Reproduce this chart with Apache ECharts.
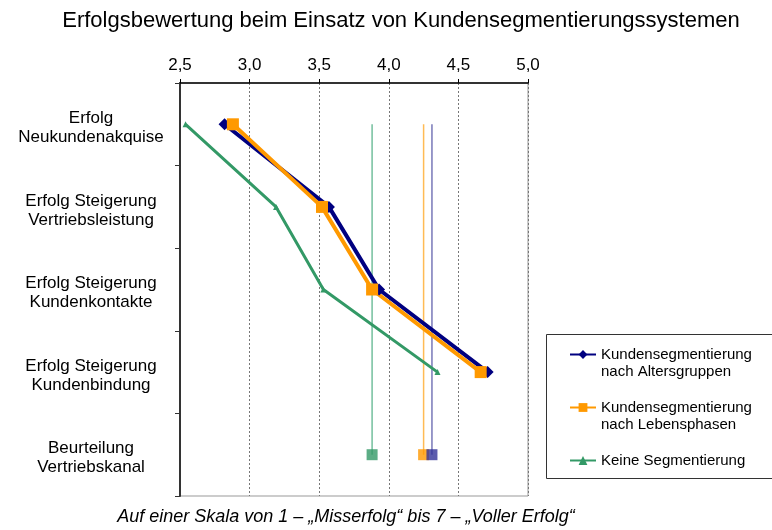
<!DOCTYPE html>
<html>
<head>
<meta charset="utf-8">
<script src="https://cdn.jsdelivr.net/npm/echarts@6/dist/echarts.min.js"></script>
<style>
  html, body { margin: 0; padding: 0; background: #fff; }
  #chart { width: 772px; height: 530px; }
</style>
</head>
<body>
<div id="chart"></div>
<script>
// Rating categories (top to bottom)
const categories = [
  'Erfolg\nNeukundenakquise',
  'Erfolg Steigerung\nVertriebsleistung',
  'Erfolg Steigerung\nKundenkontakte',
  'Erfolg Steigerung\nKundenbindung',
  'Beurteilung\nVertriebskanal'
];

const seriesNames = [
  'Kundensegmentierung\nnach Altersgruppen',
  'Kundensegmentierung\nnach Lebensphasen',
  'Keine Segmentierung'
];

// Mean ratings for the four success criteria
const altersgruppen = [2.82, 3.57, 3.93, 4.71];
const lebensphasen  = [2.88, 3.52, 3.88, 4.66];
const keineSegm     = [2.54, 3.19, 3.53, 4.35];

// Rating of the sales channel
const kanalAlters = 4.31;
const kanalLeben  = 4.25;
const kanalKeine  = 3.88;

const xTicks = { min: 2.5, max: 5.0, step: 0.5 };

const titleText = 'Erfolgsbewertung beim Einsatz von Kundensegmentierungssystemen';
const noteText  = 'Auf einer Skala von 1 – „Misserfolg“ bis 7 – „Voller Erfolg“';

const FONT = 'Liberation Sans, Arial, sans-serif';
const C_BLUE = '#000080', C_ORANGE = '#FF9900', C_GREEN = '#339966';

function lineSeries(name, data, color, symbol, size, width) {
  return {
    name: name, type: 'line', data: data, z: 5,
    symbol: symbol, symbolSize: size, showSymbol: true,
    lineStyle: { color: color, width: width },
    itemStyle: { color: color },
    emphasis: { disabled: true }
  };
}
function channelLine(value, color) {
  return {
    type: 'line', silent: true, symbol: 'none', z: 3,
    data: [[value, categories[0]], [value, categories[4]]],
    lineStyle: { color: color, width: 1.5 }
  };
}
function channelMark(value, color) {
  return {
    type: 'scatter', silent: true, symbol: 'rect', symbolSize: 11, z: 4,
    data: [[value, categories[4]]],
    itemStyle: { color: color }
  };
}

// Legend entries: a blank leading line keeps the icon level with the first text line
function legendLabel(name) {
  return '\n' + (name.indexOf('\n') >= 0 ? name : name + '\n');
}

// Category labels: a short spacer line on top nudges the two text lines down a little
function categoryLabel(value) {
  return '{s| }\n' + value.split('\n').map(l => '{t|' + l + '}').join('\n');
}

const chart = echarts.init(document.getElementById('chart'), null, { renderer: 'canvas' });
chart.setOption({
  animation: false,
  backgroundColor: '#ffffff',
  textStyle: { fontFamily: FONT },
  grid: {
    left: 180, right: 244, top: 83, bottom: 34,
    show: true, borderColor: '#999', borderWidth: 1, backgroundColor: 'transparent'
  },
  legend: {
    data: seriesNames,
    orient: 'vertical', left: 569, top: 329, padding: 0,
    itemWidth: 26, itemHeight: 11, itemGap: 2,
    formatter: legendLabel,
    textStyle: { fontSize: 15, color: '#000', lineHeight: 17, fontFamily: FONT },
    selectedMode: false
  },
  graphic: [
    {
      type: 'text', x: 401, y: 21, silent: true,
      style: {
        text: titleText, fill: '#000', font: '22px ' + FONT,
        textAlign: 'center', textVerticalAlign: 'middle'
      }
    },
    {
      type: 'text', x: 346, y: 517, silent: true,
      style: {
        text: noteText, fill: '#000', font: 'italic 18px ' + FONT,
        textAlign: 'center', textVerticalAlign: 'middle'
      }
    },
    {
      type: 'rect', shape: { x: 546.5, y: 334.5, width: 240, height: 144 },
      style: { fill: 'none', stroke: '#333', lineWidth: 1 }, silent: true, z: 0
    }
  ],
  xAxis: {
    type: 'value', position: 'top',
    min: xTicks.min, max: xTicks.max, interval: xTicks.step,
    axisLine: { show: true, lineStyle: { color: '#000', width: 1.5 } },
    axisTick: { show: true, length: 4, lineStyle: { color: '#000' } },
    axisLabel: {
      fontSize: 17, color: '#000', margin: 9, fontFamily: FONT,
      formatter: v => v.toFixed(1).replace('.', ',')
    },
    splitLine: { show: true, lineStyle: { color: '#777', type: [2, 2], width: 1 } }
  },
  yAxis: {
    type: 'category', inverse: true, data: categories,
    axisLine: { show: true, lineStyle: { color: '#333', width: 2 } },
    axisTick: { show: true, length: 5, alignWithLabel: false, lineStyle: { color: '#333' } },
    axisLabel: {
      color: '#000', align: 'center', margin: 89,
      formatter: categoryLabel,
      rich: {
        s: { fontSize: 4, lineHeight: 7 },
        t: { fontSize: 17, lineHeight: 19, color: '#000', fontFamily: FONT, align: 'center' }
      }
    },
    splitLine: { show: false }
  },
  series: [
    channelLine(kanalKeine, '#73bf9d'),
    channelLine(kanalLeben, '#ffbb55'),
    channelLine(kanalAlters, '#7878b8'),
    lineSeries(seriesNames[0], altersgruppen, C_BLUE, 'diamond', 12, 4),
    lineSeries(seriesNames[1], lebensphasen, C_ORANGE, 'rect', 12, 4),
    lineSeries(seriesNames[2], keineSegm, C_GREEN, 'triangle', 6, 3),
    channelMark(kanalKeine, C_GREEN),
    channelMark(kanalLeben, C_ORANGE),
    channelMark(kanalAlters, '#333399')
  ]
});
</script>
</body>
</html>
